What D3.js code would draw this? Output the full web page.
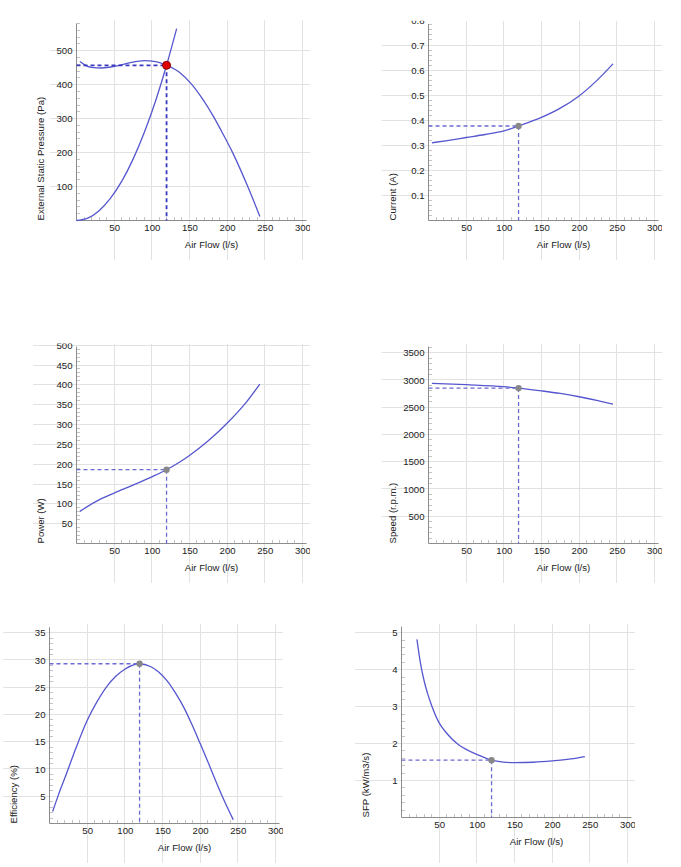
<!DOCTYPE html>
<html><head><meta charset="utf-8">
<script src="https://cdn.jsdelivr.net/npm/d3@7"></script>
<style>
body{margin:0;background:#fff}
svg{display:block}
text{font-family:"Liberation Sans",Arial,sans-serif;font-size:9.6px;fill:#222}
</style>
</head><body>
<svg id="c" width="681" height="867"></svg>
<script>
// ---- data ----
const xTicks = [50,100,150,200,250,300];
const xTitle = "Air Flow (l/s)";
const opFlow = 119.6;

const pressureFan = [[4.5,468],[12,457],[20,451],[33,449],[45,452],[57,457],[70,464],[90,471],[105,468],[119.6,457],[137,436],[153,401],[168,356],[182,306],[195,253],[208,197],[228,97],[243.5,12]];
const pressureSystem = [[0,0],[15,7],[30,29],[45,65],[60,115],[75,180],[90,259],[105,352],[119.6,457],[133,565]];
const currentData = [[4.5,0.310],[25,0.319],[50,0.331],[75,0.343],[100,0.357],[119.6,0.377],[150,0.411],[175,0.448],[200,0.497],[223,0.557],[245,0.625]];
const powerData = [[4.5,81],[25,105],[50,127],[75,147],[100,168],[119.6,186],[135,203],[150,222],[175,259],[200,303],[225,355],[243.5,402]];
const speedData = [[4.5,2938],[50,2913],[100,2877],[119.6,2851],[150,2800],[175,2752],[200,2692],[225,2622],[245,2557]];
const efficiencyData = [[4.2,2.2],[12,5.3],[23,9.3],[35,13.8],[50,18.9],[63,22.3],[76,25.1],[88,27],[100,28.3],[119.6,29.3],[134,28.8],[145,27.8],[156,26.2],[167,24.0],[178,21.4],[189,18.2],[200,14.7],[211,11.1],[222,7.4],[233,3.9],[244,0.7]];
const sfpData = [[20.5,4.82],[25,4.2],[30,3.7],[35,3.33],[40,3.03],[50,2.56],[60,2.28],[75,1.98],[90,1.8],[100,1.71],[119.6,1.55],[135,1.5],[150,1.485],[175,1.495],[200,1.53],[225,1.585],[243.5,1.65]];

const opValues = {pressure:457, current:0.377, power:186, speed:2851, efficiency:29.3, sfp:1.55};

const yTicksPressure = [100,200,300,400,500,600];
const yTicksCurrent = [0.1,0.2,0.3,0.4,0.5,0.6,0.7,0.8];
const yTicksPower = [50,100,150,200,250,300,350,400,450,500];
const yTicksSpeed = [500,1000,1500,2000,2500,3000,3500];
const yTicksEff = [5,10,15,20,25,30,35];
const yTicksSfp = [1,2,3,4,5];

// ---- layout ----
const panels = [
  {title:"External Static Pressure (Pa)", lines:[pressureFan,pressureSystem], op:opValues.pressure, ticks:yTicksPressure, fmt:d3.format("d"), minor:20,
   L:76.5, B:220.5, refV:500, refPx:50.7, top:23.5, gridLeft:50, gridBottom:260, pLeft:0, red:true},
  {title:"Current (A)", lines:[currentData], op:opValues.current, ticks:yTicksCurrent, fmt:d3.format(".1f"), minor:0.02,
   L:428.5, B:220.5, refV:0.7, refPx:45, top:24, gridLeft:381.7, gridBottom:260, pLeft:340},
  {title:"Power (W)", lines:[powerData], op:opValues.power, ticks:yTicksPower, fmt:d3.format("d"), minor:10,
   L:76.5, B:543.5, refV:450, refPx:365, top:346.7, gridLeft:33, gridBottom:583, pLeft:0},
  {title:"Speed (r.p.m.)", lines:[speedData], op:opValues.speed, ticks:yTicksSpeed, fmt:d3.format("d"), minor:100,
   L:428.5, B:543.5, refV:3500, refPx:352.7, top:346.7, gridLeft:381.7, gridBottom:583, pLeft:340},
  {title:"Efficiency (%)", lines:[efficiencyData], op:opValues.efficiency, ticks:yTicksEff, fmt:d3.format("d"), minor:1,
   L:49.5, B:823.5, refV:35, refPx:632.7, top:627.3, gridLeft:3.3, gridBottom:863, pLeft:0},
  {title:"SFP (kW/m3/s)", lines:[sfpData], op:opValues.sfp, ticks:yTicksSfp, fmt:d3.format("d"), minor:0.2,
   L:401.5, B:817.5, refV:5, refPx:632.7, top:626.7, gridLeft:355, gridBottom:863, pLeft:340}
];

const svg = d3.select("#c");
const curveColor = "#5656cf";

panels.forEach((p,i)=>{
  const x = d3.scaleLinear().domain([0,300]).range([p.L, p.L+225.9]);
  const y = d3.scaleLinear().domain([0,p.refV]).range([p.B, p.refPx]);
  const axisRight = p.L+230;
  const gridRight = p.L+233.5;
  const clipTop = p.top-3.3;
  const topVal = y.invert(p.top);

  const cid = "clip"+i;
  svg.append("clipPath").attr("id",cid).append("rect")
    .attr("x",p.pLeft).attr("y",clipTop).attr("width",gridRight-p.pLeft).attr("height",p.gridBottom-clipTop);
  const g = svg.append("g").attr("clip-path",`url(#${cid})`);

  const cr = v => Math.round(v-0.5)+0.5;

  // gridlines
  g.append("g").selectAll("line").data(p.ticks).join("line")
    .attr("x1",p.gridLeft).attr("x2",gridRight)
    .attr("y1",d=>cr(y(d))).attr("y2",d=>cr(y(d)))
    .attr("stroke","#e2e2e2").attr("stroke-width",1);
  g.append("g").selectAll("line").data(xTicks).join("line")
    .attr("x1",d=>cr(x(d))).attr("x2",d=>cr(x(d)))
    .attr("y1",clipTop).attr("y2",p.gridBottom)
    .attr("stroke","#e2e2e2").attr("stroke-width",1);

  // minor ticks
  const xMinor = d3.range(10,301,10).filter(v=>v%50!==0);
  g.append("g").selectAll("line").data(xMinor).join("line")
    .attr("x1",d=>cr(x(d))).attr("x2",d=>cr(x(d)))
    .attr("y1",p.B).attr("y2",p.B-3.5)
    .attr("stroke","#c4c4c4");
  const nMin = Math.floor(topVal/p.minor+1e-6);
  const yMinor = d3.range(1,nMin+1).map(k=>k*p.minor).filter(v=>Math.abs(v/(p.minor*5)-Math.round(v/(p.minor*5)))>1e-6);
  g.append("g").selectAll("line").data(yMinor).join("line")
    .attr("x1",p.L).attr("x2",p.L+3.5)
    .attr("y1",d=>cr(y(d))).attr("y2",d=>cr(y(d)))
    .attr("stroke","#c4c4c4");

  // axis lines
  g.append("line").attr("x1",p.L).attr("x2",axisRight).attr("y1",p.B).attr("y2",p.B).attr("stroke","#8c8c8c");
  g.append("line").attr("x1",p.L).attr("x2",p.L).attr("y1",p.top).attr("y2",p.B).attr("stroke","#8c8c8c");

  // tick labels via d3 axes
  const ax = g.append("g").attr("transform",`translate(0,${p.B})`)
    .call(d3.axisBottom(x).tickValues(xTicks).tickSize(0).tickPadding(3.5).tickFormat(d3.format("d")));
  ax.select(".domain").remove();
  const ay = g.append("g").attr("transform",`translate(${p.L},0)`)
    .call(d3.axisLeft(y).tickValues(p.ticks).tickSize(0).tickPadding(4).tickFormat(p.fmt));
  ay.select(".domain").remove();
  g.selectAll(".tick text").attr("fill","#222").style("font-family",'"Liberation Sans",Arial,sans-serif').style("font-size","9.6px");

  // curves
  const line = d3.line().x(d=>x(d[0])).y(d=>y(d[1])).curve(d3.curveMonotoneX);
  p.lines.forEach(ln=>{
    g.append("path").attr("d",line(ln)).attr("fill","none").attr("stroke",curveColor).attr("stroke-width",1.3);
  });

  // dashed guides
  const ox = x(opFlow), oy = y(p.op);
  const dashColor = p.red ? "#3a3abf" : "#6a6ad2";
  const dashW = p.red ? 1.8 : 1.3;
  g.append("line").attr("x1",p.L).attr("x2",ox).attr("y1",oy).attr("y2",oy)
    .attr("stroke",dashColor).attr("stroke-width",dashW).attr("stroke-dasharray","4,3");
  g.append("line").attr("x1",ox).attr("x2",ox).attr("y1",oy).attr("y2",p.B)
    .attr("stroke",dashColor).attr("stroke-width",dashW).attr("stroke-dasharray","4,3");

  // operating point
  if(p.red){
    g.append("circle").attr("cx",ox).attr("cy",oy).attr("r",4).attr("fill","#e00000").attr("stroke","#8a0000").attr("stroke-width",1);
  } else {
    g.append("circle").attr("cx",ox).attr("cy",oy).attr("r",3.2).attr("fill","#888");
  }

  // titles
  g.append("text").attr("x",p.L+135).attr("y",p.B+27).attr("text-anchor","middle").text(xTitle);
  g.append("text").attr("transform",`translate(${p.L-32.5},${p.B}) rotate(-90)`).attr("text-anchor","start").text(p.title);
});
</script>
</body></html>
